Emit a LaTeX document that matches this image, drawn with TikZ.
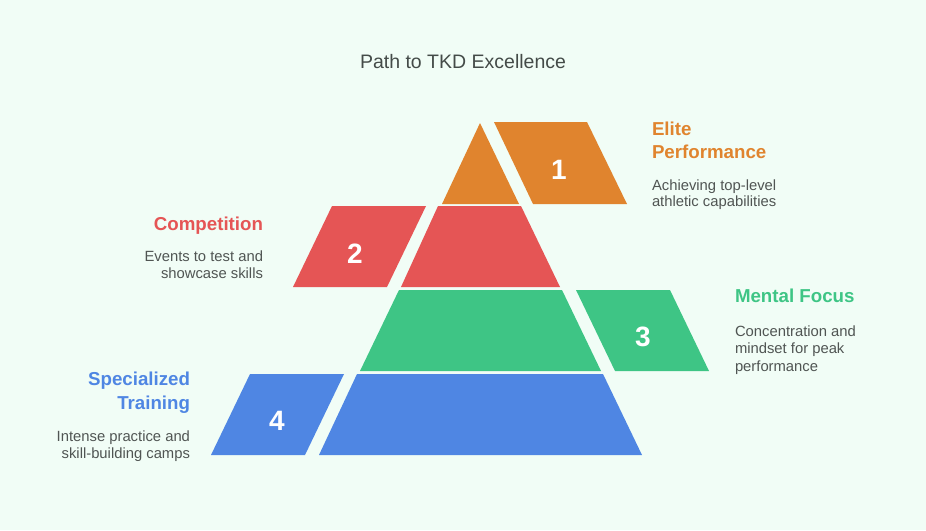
\documentclass[tikz,border=0pt]{standalone}
\usepackage{fontspec}
\setmainfont{Liberation Sans}
\definecolor{bgc}{HTML}{F1FDF6}
\definecolor{orc}{HTML}{E0842E}
\definecolor{rdc}{HTML}{E55555}
\definecolor{grc}{HTML}{3EC585}
\definecolor{blc}{HTML}{4F86E3}
\definecolor{titc}{HTML}{444B48}
\definecolor{desc}{HTML}{505553}
\begin{document}
\begin{tikzpicture}[x=1pt,y=-1pt,
  txt/.style={inner sep=0pt,outer sep=0pt},
  head/.style={txt,font=\fontsize{18.7}{22}\selectfont\bfseries},
  body/.style={txt,font=\fontsize{14.8}{17}\selectfont,text=desc},
  num/.style={txt,font=\fontsize{28}{30}\selectfont\bfseries,text=white}]
\useasboundingbox[fill=bgc] (0,0) rectangle (926,530);
% title
\node[txt,font=\fontsize{19.5}{22}\selectfont,text=titc,anchor=base] (title) at (463,68) {Path to TKD Excellence};
% pyramid tiers
\fill[orc] (480,123) -- (519,204) -- (442,204) -- cycle;
\fill[rdc] (438,206) -- (521,206) -- (560,287) -- (401,287) -- cycle;
\fill[grc] (399,290) -- (562,290) -- (601,371) -- (360,371) -- cycle;
\fill[blc] (357,374) -- (603,374) -- (642,455) -- (319,455) -- cycle;
% side boxes
\fill[orc] (494,122) -- (587,122) -- (627,204) -- (533,204) -- cycle;
\fill[rdc] (332,206) -- (426,206) -- (387,287) -- (293,287) -- cycle;
\fill[grc] (576,290) -- (670,290) -- (709,371) -- (615,371) -- cycle;
\fill[blc] (250,374) -- (344,374) -- (305,455) -- (211,455) -- cycle;
% numbers
\node[num] (n1) at (559,170) {1};
\node[num] (n2) at (355,254) {2};
\node[num] (n3) at (643,337) {3};
\node[num] (n4) at (277,421) {4};
% texts
\node[head,text=orc,anchor=base west] (h1a) at (652,135) {Elite};
\node[head,text=orc,anchor=base west] (h1b) at (652,158) {Performance};
\node[body,anchor=base west] (d1a) at (652,190) {Achieving top-level};
\node[body,anchor=base west] (d1b) at (652,206) {athletic capabilities};
\node[head,text=rdc,anchor=base east] (h2) at (263,230) {Competition};
\node[body,anchor=base east] (d2a) at (263,261) {Events to test and};
\node[body,anchor=base east] (d2b) at (263,278) {showcase skills};
\node[head,text=grc,anchor=base west] (h3) at (735,302) {Mental Focus};
\node[body,anchor=base west] (d3a) at (735,336) {Concentration and};
\node[body,anchor=base west] (d3b) at (735,353) {mindset for peak};
\node[body,anchor=base west] (d3c) at (735,371) {performance};
\node[head,text=blc,anchor=base east] (h4a) at (190,385) {Specialized};
\node[head,text=blc,anchor=base east] (h4b) at (190,409) {Training};
\node[body,anchor=base east] (d4a) at (190,441) {Intense practice and};
\node[body,anchor=base east] (d4b) at (190,458) {skill-building camps};
\end{tikzpicture}
\end{document}
